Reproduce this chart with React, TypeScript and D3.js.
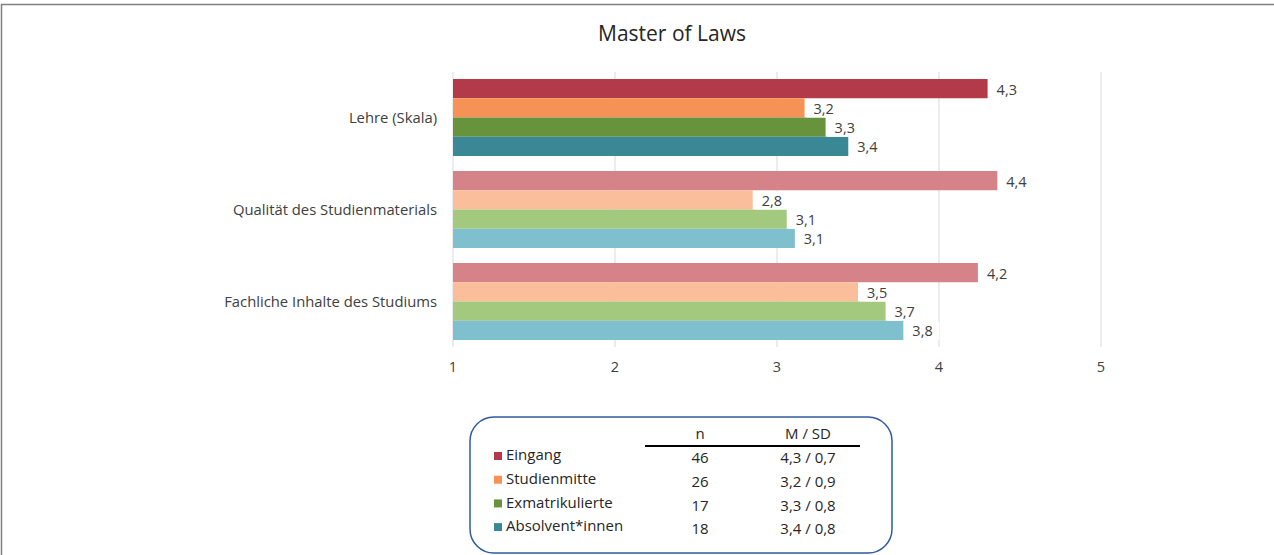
import { useEffect } from "react";
import * as d3 from "d3";

const categories = ["Lehre (Skala)", "Qualität des Studienmaterials", "Fachliche Inhalte des Studiums"];
const series = ["Eingang", "Studienmitte", "Exmatrikulierte", "Absolvent*innen"];
// bar values per category, in series order
const lehre = [4.3, 3.17, 3.3, 3.44];
const qualitaet = [4.36, 2.85, 3.06, 3.11];
const fachlich = [4.24, 3.5, 3.67, 3.78];
const values = [lehre, qualitaet, fachlich];
// printed labels per category
const lehreLabels = ["4,3", "3,2", "3,3", "3,4"];
const qualitaetLabels = ["4,4", "2,8", "3,1", "3,1"];
const fachlichLabels = ["4,2", "3,5", "3,7", "3,8"];
const labels = [lehreLabels, qualitaetLabels, fachlichLabels];
const darkColors = ["#B33A48", "#F79256", "#66933C", "#3A8796"];
const lightColors = ["#D68289", "#FBBE9B", "#A3C97F", "#7EC0CD"];
const ticks = [1, 2, 3, 4, 5];
const nValues = [46, 26, 17, 18];
const msd = ["4,3 / 0,7", "3,2 / 0,9", "3,3 / 0,8", "3,4 / 0,8"];

const W = 1274;
const H = 555;
const font = "'Open Sans', 'Noto Sans', sans-serif";

export default function App() {
  useEffect(() => {
    document.body.style.margin = "0";
  }, []);

  const x = d3.scaleLinear().domain([1, 5]).range([453, 1101]);
  const y = d3
    .scaleBand<string>()
    .domain(categories)
    .range([71.5, 347.5])
    .paddingInner(0.163)
    .paddingOuter(0.0815);
  const ys = d3.scaleBand<string>().domain(series).range([0, y.bandwidth()]);

  return (
    <svg width={W} height={H} style={{ display: "block", fontFamily: font }}>
      <rect x={0} y={0} width={W} height={H} fill="#fff" />
      {/* frame */}
      <path d={`M1.5,${H} L1.5,4.5 L${W},4.5`} fill="none" stroke="#7f7f7f" strokeWidth={1.5} />

      <text x={672} y={41} textAnchor="middle" fontSize={21} fill="#262626">
        Master of Laws
      </text>

      {/* grid */}
      {ticks.map((t) => (
        <g key={t}>
          <line x1={x(t)} x2={x(t)} y1={72} y2={347} stroke="#d9d9d9" strokeWidth={1} />
          <text x={x(t)} y={372} textAnchor="middle" fontSize={14.5} fill="#404040">
            {t}
          </text>
        </g>
      ))}

      {/* bars */}
      {categories.map((c, ci) => (
        <g key={c}>
          <text
            x={437}
            y={y(c)! + y.bandwidth() / 2}
            dy="0.35em"
            textAnchor="end"
            fontSize={14.8}
            fill="#404040"
          >
            {c}
          </text>
          {series.map((s, si) => {
            const v = values[ci][si];
            const by = y(c)! + ys(s)!;
            return (
              <rect
                key={s}
                x={x(1)}
                y={by}
                width={x(v) - x(1)}
                height={ys.bandwidth()}
                fill={ci === 0 ? darkColors[si] : lightColors[si]}
              />
            );
          })}
          {series.map((s, si) => {
            const v = values[ci][si];
            const by = y(c)! + ys(s)!;
            return (
              <g key={s}>
                <rect x={x(v) + 2} y={by + 1} width={34} height={ys.bandwidth() - 1} fill="#fff" />
                <text
                  x={x(v) + 9}
                  y={by + ys.bandwidth() / 2 + 1}
                  dy="0.35em"
                  fontSize={14.5}
                  fill="#404040"
                >
                  {labels[ci][si]}
                </text>
              </g>
            );
          })}
        </g>
      ))}

      {/* legend table */}
      <rect x={470} y={417} width={422} height={136} rx={24} ry={24} fill="#fff" stroke="#2E5C9E" strokeWidth={1.5} />
      <text x={700} y={439} textAnchor="middle" fontSize={15} fill="#262626">n</text>
      <text x={808} y={439} textAnchor="middle" fontSize={15} fill="#262626">M / SD</text>
      <line x1={645} x2={860} y1={446} y2={446} stroke="#000" strokeWidth={2} />
      {series.map((s, i) => {
        const ry = 456 + i * 23.7;
        return (
          <g key={s}>
            <rect x={494} y={ry - 4} width={8} height={8} fill={darkColors[i]} />
            <text x={506} y={ry - 1} dy="0.35em" fontSize={15} fill="#262626">{s}</text>
            <text x={700} y={ry + 2} dy="0.35em" textAnchor="middle" fontSize={15} fill="#262626">
              {nValues[i]}
            </text>
            <text x={808} y={ry + 2} dy="0.35em" textAnchor="middle" fontSize={15} fill="#262626">
              {msd[i]}
            </text>
          </g>
        );
      })}
    </svg>
  );
}
